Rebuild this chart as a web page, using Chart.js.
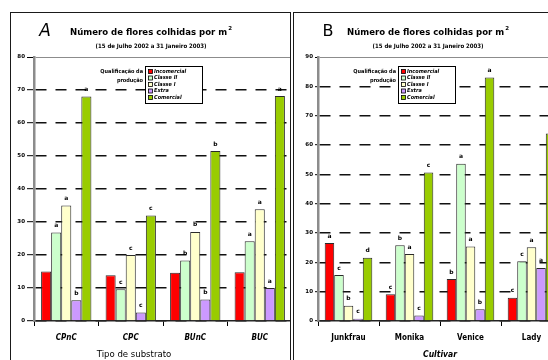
<!DOCTYPE html>
<html>
<head>
<meta charset="utf-8">
<script src="https://cdn.jsdelivr.net/npm/chart.js@4/dist/chart.umd.min.js"></script>
<style>
  html, body { margin: 0; padding: 0; background: #fff; width: 548px; height: 360px; overflow: hidden; }
  .clip { position: absolute; top: 0; height: 360px; overflow: hidden; }
  .clip canvas { position: absolute; top: 0; }
  .frame { position: absolute; border: 1.5px solid #1a1a1a; box-sizing: border-box; pointer-events: none; }
</style>
</head>
<body>
<div class="clip" id="clipA" style="left:0;width:291px;">
  <canvas id="chartA" style="left:0;width:300px;height:360px;"></canvas>
</div>
<div class="clip" id="clipB" style="left:292px;width:256px;">
  <canvas id="chartB" style="left:0;width:290px;height:360px;"></canvas>
</div>
<div class="frame" style="left:10px;top:12px;width:281px;height:360px;"></div>
<div class="frame" style="left:293px;top:12px;width:270px;height:360px;"></div>

<script>
// Categories
const substratos = ['CPnC', 'CPC', 'BUnC', 'BUC'];
const cultivares = ['Junkfrau', 'Monika', 'Venice', 'Lady'];
const classes = ['Incomercial', 'Classe II', 'Classe I', 'Extra', 'Comercial'];
const coresClasses = ['#FF0000', '#CCFFCC', '#FFFFCC', '#CC99FF', '#99CC00'];

// Panel A: flowers harvested per m2 by substrate type
const aIncomercial = [15.0, 13.9, 14.6, 14.8];
const aClasseII    = [26.8, 9.6, 18.3, 24.2];
const aClasseI     = [35.0, 20.0, 27.0, 33.9];
const aExtra       = [6.3, 2.6, 6.5, 10.0];
const aComercial   = [68.0, 32.0, 51.5, 68.2];

// Significance letters, panel A (one list per class)
const aLetrasIncomercial = ['', '', '', ''];
const aLetrasClasseII    = ['a', 'c', 'b', 'a'];
const aLetrasClasseI     = ['a', 'c', 'b', 'a'];
const aLetrasExtra       = ['b', 'c', 'b', 'a'];
const aLetrasComercial   = ['a', 'c', 'b', 'a'];

// Panel B: flowers harvested per m2 by cultivar
const bIncomercial = [26.6, 9.1, 14.3, 7.9];
const bClasseII    = [15.7, 25.8, 53.6, 20.4];
const bClasseI     = [5.2, 22.8, 25.4, 25.1];
const bExtra       = [0.8, 1.9, 4.0, 18.1];
const bComercial   = [21.6, 50.6, 83.0, 63.9];

// Significance letters, panel B
const bLetrasIncomercial = ['a', 'c', 'b', 'c'];
const bLetrasClasseII    = ['c', 'b', 'a', 'c'];
const bLetrasClasseI     = ['b', 'a', 'a', 'a'];
const bLetrasExtra       = ['c', 'c', 'b', 'a'];
const bLetrasComercial   = ['d', 'c', 'a', ''];

// Axis ticks
const aMaxY = 80;
const bMaxY = 90;
const passoY = 10;

const titulo = 'Número de flores colhidas por m';
const periodo = '(15 de Julho 2002 a 31 Janeiro 2003)';
const legendaTitulo1 = 'Qualificação da';
const legendaTitulo2 = 'produção';

const FONTE = '"DejaVu Sans", sans-serif';
const FONTE_C = '"DejaVu Sans Condensed", "DejaVu Sans", sans-serif';

function criarDatasets(series) {
  return series.map((vals, i) => ({
    label: classes[i],
    data: vals,
    backgroundColor: coresClasses[i],
    borderColor: '#2a2a2a',
    borderWidth: 1,
    borderSkipped: 'bottom',
    barPercentage: 1.0,
    categoryPercentage: 0.78
  }));
}

// Draws the significance letters above each bar
function letrasPlugin(letras) {
  return {
    id: 'letras',
    afterDatasetsDraw(chart) {
      const ctx = chart.ctx;
      ctx.save();
      ctx.font = 'bold 6px ' + FONTE;
      ctx.fillStyle = '#000';
      ctx.textAlign = 'center';
      ctx.textBaseline = 'bottom';
      chart.data.datasets.forEach((ds, i) => {
        chart.getDatasetMeta(i).data.forEach((bar, j) => {
          const l = letras[i][j];
          if (l) ctx.fillText(l, bar.x, bar.y - 4);
        });
      });
      ctx.restore();
    }
  };
}

// Panel decorations: letter, title, period, legend, axis title
function painelPlugin(p) {
  return {
    id: 'painel',
    beforeDraw(chart) {
      const ctx = chart.ctx;
      ctx.save();
      ctx.fillStyle = '#fff';
      ctx.fillRect(0, 0, chart.width, chart.height);
      ctx.restore();
    },
    afterDraw(chart) {
      const ctx = chart.ctx;
      const dx = p.dx;
      ctx.save();
      ctx.fillStyle = '#000';
      ctx.textBaseline = 'middle';

      // panel letter
      ctx.font = p.letraFonte;
      ctx.textAlign = 'center';
      ctx.fillText(p.letra, p.letraX - dx, 32);

      // title with superscript 2
      ctx.font = 'bold 9.5px ' + FONTE_C;
      const w = ctx.measureText(titulo).width;
      ctx.font = 'bold 5.5px ' + FONTE;
      const ws = ctx.measureText('2').width;
      const x0 = p.tituloX - dx - (w + ws + 1) / 2;
      ctx.textAlign = 'left';
      ctx.font = 'bold 9.5px ' + FONTE_C;
      ctx.fillText(titulo, x0, 33);
      ctx.font = 'bold 5.5px ' + FONTE;
      ctx.fillText('2', x0 + w + 1, 29);

      // period
      ctx.font = 'bold 6px ' + FONTE_C;
      ctx.textAlign = 'center';
      ctx.fillText(periodo, p.tituloX - dx, 46);

      // legend caption
      ctx.font = 'bold 5.5px ' + FONTE_C;
      ctx.textAlign = 'right';
      ctx.fillText(legendaTitulo1, p.legX - 2 - dx, 72);
      ctx.fillText(legendaTitulo2, p.legX - 2 - dx, 81);

      // legend box
      const lx = p.legX - dx, ly = 66, lw = 58, lh = 38;
      ctx.fillStyle = '#fff';
      ctx.fillRect(lx, ly, lw, lh);
      ctx.strokeStyle = '#000';
      ctx.lineWidth = 1;
      ctx.strokeRect(lx + 0.5, ly + 0.5, lw - 1, lh - 1);
      const linhas = [71.5, 78, 84.5, 91, 97.5];
      ctx.font = 'bold italic 5.5px ' + FONTE_C;
      ctx.textAlign = 'left';
      classes.forEach((c, i) => {
        const y = linhas[i];
        ctx.fillStyle = coresClasses[i];
        ctx.fillRect(lx + 3.5, y - 2, 4, 4);
        ctx.strokeStyle = '#000';
        ctx.lineWidth = 0.8;
        ctx.strokeRect(lx + 3.5, y - 2, 4, 4);
        ctx.fillStyle = '#000';
        ctx.fillText(c, lx + 9, y);
      });

      // x axis title
      ctx.font = p.eixoFonte;
      ctx.textAlign = 'center';
      ctx.fillStyle = '#000';
      ctx.fillText(p.eixoTitulo, p.eixoX - dx, 355);
      ctx.restore();
    }
  };
}

function criarGrafico(el, cats, series, letras, maxY, geo, painel) {
  return new Chart(document.getElementById(el), {
    type: 'bar',
    data: { labels: cats, datasets: criarDatasets(series) },
    options: {
      responsive: false,
      animation: false,
      devicePixelRatio: 1,
      layout: { padding: { left: 0, right: geo.padRight, top: 57, bottom: 0 } },
      plugins: { legend: { display: false }, tooltip: { enabled: false }, title: { display: false } },
      scales: {
        x: {
          grid: { offset: true, drawOnChartArea: false, drawTicks: true, tickLength: 5, color: '#000', lineWidth: 1 },
          border: { color: '#222', width: 1.5 },
          ticks: { color: '#000', padding: 7, font: { family: FONTE_C, size: 8, weight: 'bold', style: geo.catStyle } },
          afterFit(s) { s.height = 39; }
        },
        y: {
          min: 0,
          max: maxY,
          ticks: { stepSize: passoY, color: '#000', padding: geo.yPad, font: { family: FONTE, size: 5.5, weight: 'bold' } },
          grid: {
            color: c => (c.tick && c.tick.value === maxY) ? '#8c8c8c' : '#111',
            lineWidth: c => (c.tick && c.tick.value === maxY) ? 1 : 1.4,
            tickLength: geo.tickLen,
            tickColor: '#000',
            tickWidth: 1
          },
          border: {
            color: '#8c8c8c',
            width: 2.5,
            dash: c => (c.tick && c.tick.value === maxY) ? [] : [11, 9]
          },
          afterFit(s) { s.width = geo.yWidth; }
        }
      }
    },
    plugins: [painelPlugin(painel), letrasPlugin(letras)]
  });
}

const cA = document.getElementById('chartA');
cA.width = 300; cA.height = 360;
const cB = document.getElementById('chartB');
cB.width = 290; cB.height = 360;

criarGrafico('chartA', substratos,
  [aIncomercial, aClasseII, aClasseI, aExtra, aComercial],
  [aLetrasIncomercial, aLetrasClasseII, aLetrasClasseI, aLetrasExtra, aLetrasComercial],
  aMaxY,
  { padRight: 8, yWidth: 34, tickLen: 7, yPad: 2, catStyle: 'italic' },
  { dx: 0, letra: 'A', letraX: 45, letraFonte: 'italic 17px ' + FONTE, tituloX: 151,
    legX: 145, eixoTitulo: 'Tipo de substrato', eixoX: 134, eixoFonte: '9.5px ' + FONTE_C });

criarGrafico('chartB', cultivares,
  [bIncomercial, bClasseII, bClasseI, bExtra, bComercial],
  [bLetrasIncomercial, bLetrasClasseII, bLetrasClasseI, bLetrasExtra, bLetrasComercial],
  bMaxY,
  { padRight: 20, yWidth: 26, tickLen: 3, yPad: 2, catStyle: 'normal' },
  { dx: 292, letra: 'B', letraX: 328, letraFonte: '16px ' + FONTE, tituloX: 428,
    legX: 398, eixoTitulo: 'Cultivar', eixoX: 440, eixoFonte: 'bold italic 8.5px ' + FONTE_C });
</script>
</body>
</html>
